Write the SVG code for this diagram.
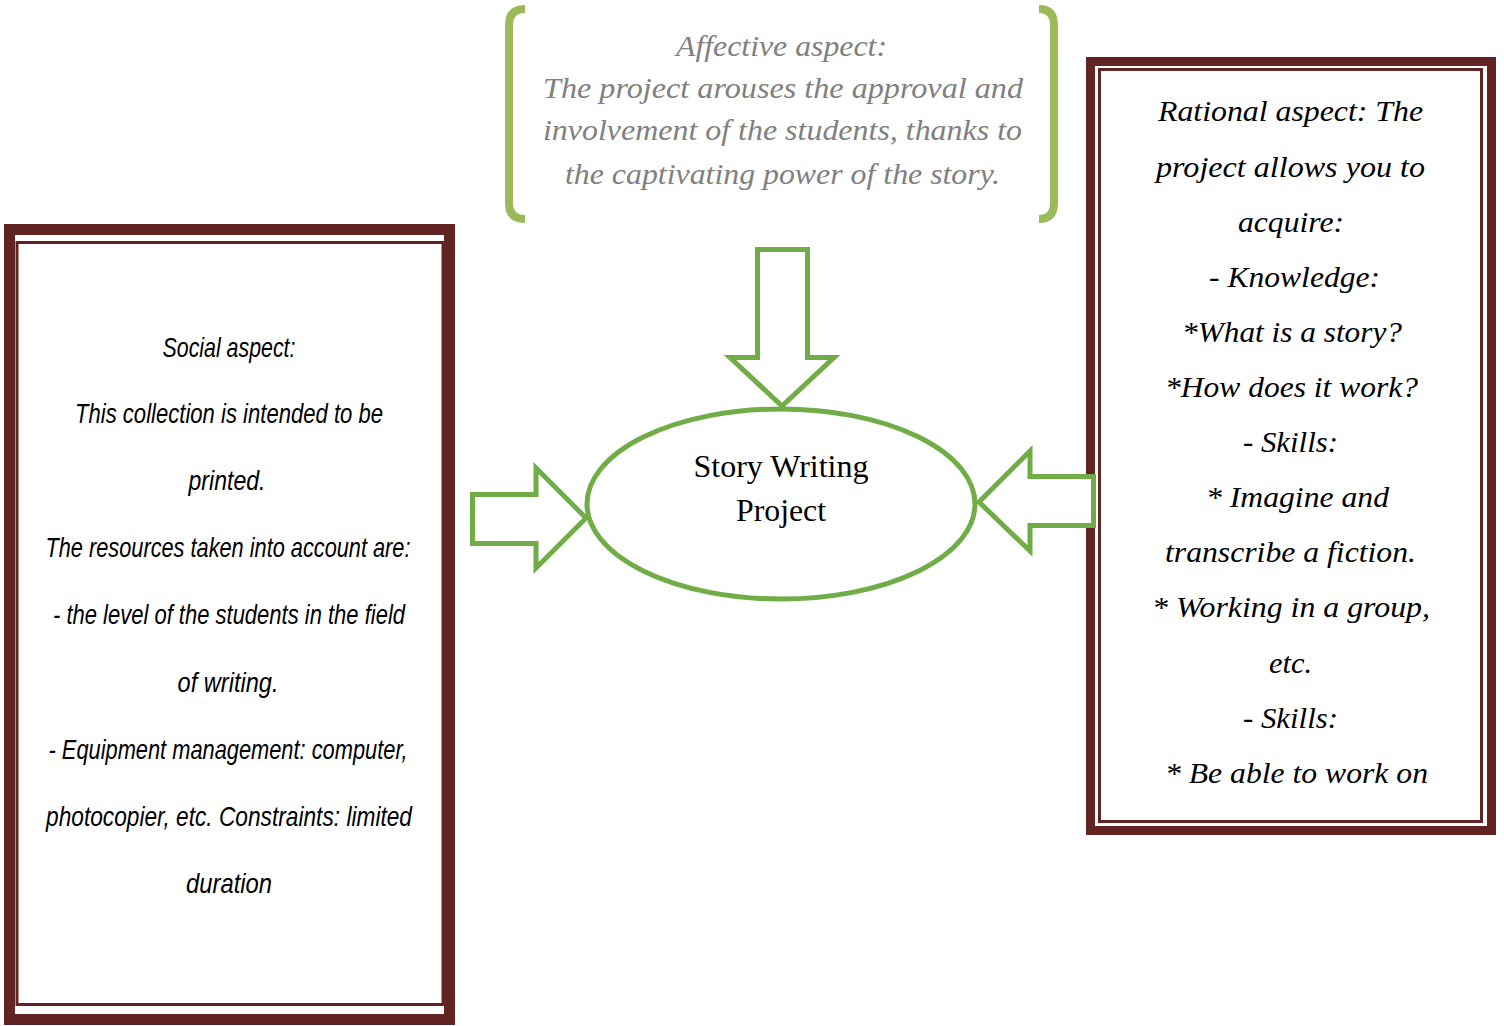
<svg xmlns="http://www.w3.org/2000/svg" width="1504" height="1026" viewBox="0 0 1504 1026">
<style>
.frame{fill:#ffffff;stroke:#622423}
.thin{fill:none;stroke:#622423;stroke-width:3}
.arrow{fill:#ffffff;stroke:#70AD47;stroke-width:5;stroke-linejoin:miter}
.brk{fill:none;stroke:#9BBB59;stroke-width:8;stroke-linecap:butt}
.soc{font-family:"Liberation Sans Narrow","Liberation Sans",sans-serif;font-style:italic;font-size:28px;fill:#000;text-anchor:middle}
.rat{font-family:"Liberation Serif","Times New Roman",serif;font-style:italic;font-size:30px;fill:#000;text-anchor:middle}
.aff{font-family:"Liberation Serif","Times New Roman",serif;font-style:italic;font-size:30px;fill:#808080;text-anchor:middle}
.ctr{font-family:"Liberation Serif","Times New Roman",serif;font-size:31px;fill:#000;text-anchor:middle}
</style>
<rect width="1504" height="1026" fill="#ffffff"/>

<g id="social">
<rect class="frame" x="9.5" y="229.5" width="440" height="790" stroke-width="11"/>
<rect class="thin" x="17" y="242.5" width="426" height="762"/>
<text class="soc" x="229" y="357" textLength="133" lengthAdjust="spacingAndGlyphs">Social aspect:</text>
<text class="soc" x="229" y="423" textLength="308" lengthAdjust="spacingAndGlyphs">This collection is intended to be</text>
<text class="soc" x="227" y="490" textLength="77" lengthAdjust="spacingAndGlyphs">printed.</text>
<text class="soc" x="228" y="557" textLength="365" lengthAdjust="spacingAndGlyphs">The resources taken into account are:</text>
<text class="soc" x="229" y="624" textLength="352" lengthAdjust="spacingAndGlyphs">- the level of the students in the field</text>
<text class="soc" x="228" y="692" textLength="101" lengthAdjust="spacingAndGlyphs">of writing.</text>
<text class="soc" x="228" y="759" textLength="359" lengthAdjust="spacingAndGlyphs">- Equipment management: computer,</text>
<text class="soc" x="229" y="826" textLength="366" lengthAdjust="spacingAndGlyphs">photocopier, etc. Constraints: limited</text>
<text class="soc" x="229" y="893" textLength="86" lengthAdjust="spacingAndGlyphs">duration</text>
</g>

<g id="rational">
<rect class="frame" x="1090.5" y="61.5" width="401" height="769" stroke-width="9"/>
<rect class="thin" x="1099.5" y="69.5" width="382" height="752"/>
<text class="rat" x="1290.5" y="121" textLength="265" lengthAdjust="spacingAndGlyphs">Rational aspect: The</text>
<text class="rat" x="1290.5" y="177" textLength="269" lengthAdjust="spacingAndGlyphs">project allows you to</text>
<text class="rat" x="1291" y="232" textLength="106" lengthAdjust="spacingAndGlyphs">acquire:</text>
<text class="rat" x="1294.5" y="287" textLength="171" lengthAdjust="spacingAndGlyphs">- Knowledge:</text>
<text class="rat" x="1292" y="342" textLength="220" lengthAdjust="spacingAndGlyphs">*What is a story?</text>
<text class="rat" x="1291.5" y="397" textLength="253" lengthAdjust="spacingAndGlyphs">*How does it work?</text>
<text class="rat" x="1290.5" y="452" textLength="95" lengthAdjust="spacingAndGlyphs">- Skills:</text>
<text class="rat" x="1297.5" y="507" textLength="183" lengthAdjust="spacingAndGlyphs">* Imagine and</text>
<text class="rat" x="1290.5" y="562" textLength="251" lengthAdjust="spacingAndGlyphs">transcribe a fiction.</text>
<text class="rat" x="1291" y="617" textLength="278" lengthAdjust="spacingAndGlyphs">* Working in a group,</text>
<text class="rat" x="1290.5" y="673" textLength="43" lengthAdjust="spacingAndGlyphs">etc.</text>
<text class="rat" x="1290.5" y="728" textLength="95" lengthAdjust="spacingAndGlyphs">- Skills:</text>
<text class="rat" x="1296.5" y="783" textLength="263" lengthAdjust="spacingAndGlyphs">* Be able to work on</text>
</g>

<g id="affective">
<path class="brk" d="M525,9 Q509,9 509,25 L509,203 Q509,219 525,219"/>
<path class="brk" d="M1039,9 Q1054,9 1054,25 L1054,203 Q1054,219 1039,219"/>
<text class="aff" x="781.5" y="56" textLength="211" lengthAdjust="spacingAndGlyphs">Affective aspect:</text>
<text class="aff" x="783" y="98" textLength="480" lengthAdjust="spacingAndGlyphs">The project arouses the approval and</text>
<text class="aff" x="782.5" y="140" textLength="479" lengthAdjust="spacingAndGlyphs">involvement of the students, thanks to</text>
<text class="aff" x="782.5" y="184" textLength="435" lengthAdjust="spacingAndGlyphs">the captivating power of the story.</text>
</g>

<g id="center">
<ellipse cx="781" cy="504" rx="194" ry="95" fill="#ffffff" stroke="#70AD47" stroke-width="5"/>
<text class="ctr" x="781" y="477" textLength="175" lengthAdjust="spacingAndGlyphs">Story Writing</text>
<text class="ctr" x="781" y="521" textLength="90" lengthAdjust="spacingAndGlyphs">Project</text>
</g>

<g id="connectors">
<polygon class="arrow" points="757.5,249.5 807.5,249.5 807.5,357.5 834,357.5 782,406 730,357.5 757.5,357.5"/>
<polygon class="arrow" points="472.5,494.5 536,494.5 536,468 586,518 536,568 536,543.5 472.5,543.5"/>
<polygon class="arrow" points="1093.5,476.5 1030,476.5 1030,451 979,502 1030,551 1030,525.5 1093.5,525.5"/>
</g>
</svg>
